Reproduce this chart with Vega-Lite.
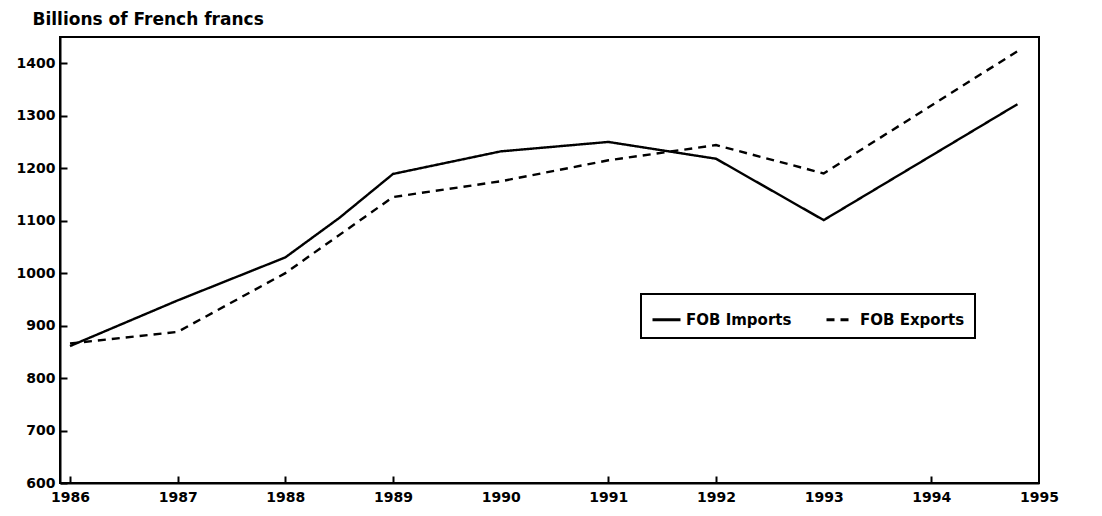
{
  "$schema": "https://vega.github.io/schema/vega-lite/v6.json",
  "width": 979,
  "height": 446,
  "autosize": "none",
  "padding": {"left": 60, "top": 37, "right": 63, "bottom": 33},
  "background": "white",
  "data": {
    "values": [
      {"series": "FOB Imports", "year": 1986, "value": 861},
      {"series": "FOB Imports", "year": 1987, "value": 948},
      {"series": "FOB Imports", "year": 1988, "value": 1030},
      {"series": "FOB Imports", "year": 1988.5, "value": 1105},
      {"series": "FOB Imports", "year": 1989, "value": 1189},
      {"series": "FOB Imports", "year": 1990, "value": 1232},
      {"series": "FOB Imports", "year": 1991, "value": 1250},
      {"series": "FOB Imports", "year": 1992, "value": 1218},
      {"series": "FOB Imports", "year": 1993, "value": 1101},
      {"series": "FOB Imports", "year": 1994.8, "value": 1322},
      {"series": "FOB Exports", "year": 1986, "value": 866},
      {"series": "FOB Exports", "year": 1987, "value": 888},
      {"series": "FOB Exports", "year": 1988, "value": 1000},
      {"series": "FOB Exports", "year": 1989, "value": 1145},
      {"series": "FOB Exports", "year": 1990, "value": 1175},
      {"series": "FOB Exports", "year": 1991, "value": 1215},
      {"series": "FOB Exports", "year": 1992, "value": 1244},
      {"series": "FOB Exports", "year": 1993, "value": 1190},
      {"series": "FOB Exports", "year": 1994.8, "value": 1423}
    ]
  },
  "mark": {"type": "line", "strokeWidth": 2.4, "color": "black"},
  "encoding": {
    "x": {
      "field": "year",
      "type": "quantitative",
      "scale": {"domain": [1985.907, 1995], "nice": false, "zero": false},
      "axis": {
        "title": null,
        "values": [1986, 1987, 1988, 1989, 1990, 1991, 1992, 1993, 1994, 1995],
        "format": "d",
        "grid": false,
        "labelFont": "DejaVu Sans",
        "labelFontSize": 14,
        "labelFontWeight": "bold",
        "labelColor": "black",
        "labelPadding": 14,
        "labelFlush": false,
        "labelOverlap": false,
        "domainColor": "black",
        "domainWidth": 2,
        "tickColor": "black",
        "tickWidth": 2,
        "tickSize": -7,
        "tickOpacity": {"condition": {"test": "datum.value == 1990 || datum.value == 1993 || datum.value == 1995", "value": 0}, "value": 1}
      }
    },
    "y": {
      "field": "value",
      "type": "quantitative",
      "scale": {"domain": [600, 1450], "nice": false, "zero": false},
      "axis": {
        "title": "Billions of French francs",
        "titleAngle": 0,
        "titleAlign": "left",
        "titleBaseline": "alphabetic",
        "titleX": -28,
        "titleY": -13,
        "titleFont": "DejaVu Sans",
        "titleFontSize": 17,
        "titleFontWeight": "bold",
        "titleColor": "black",
        "values": [600, 700, 800, 900, 1000, 1100, 1200, 1300, 1400],
        "format": "d",
        "grid": false,
        "labelFont": "DejaVu Sans",
        "labelFontSize": 14,
        "labelFontWeight": "bold",
        "labelColor": "black",
        "labelPadding": 12,
        "domainColor": "black",
        "domainWidth": 2,
        "tickColor": "black",
        "tickWidth": 2,
        "tickSize": -7
      }
    },
    "strokeDash": {
      "field": "series",
      "type": "nominal",
      "scale": {"domain": ["FOB Imports", "FOB Exports"], "range": [[1, 0], [8, 6]]},
      "legend": {
        "title": null,
        "orient": "none",
        "legendX": 581,
        "legendY": 257,
        "direction": "horizontal",
        "strokeColor": "black",
        "fillColor": "white",
        "padding": 10,
        "symbolType": "stroke",
        "symbolSize": 784,
        "symbolStrokeWidth": 3,
        "symbolStrokeColor": "black",
        "labelFont": "DejaVu Sans",
        "labelFontSize": 15,
        "labelFontWeight": "bold",
        "labelColor": "black",
        "columnPadding": 28,
        "encode": {"legend": {"update": {"strokeWidth": {"value": 2}}}}
      }
    }
  },
  "config": {
    "view": {"stroke": "black", "strokeWidth": 2}
  }
}
